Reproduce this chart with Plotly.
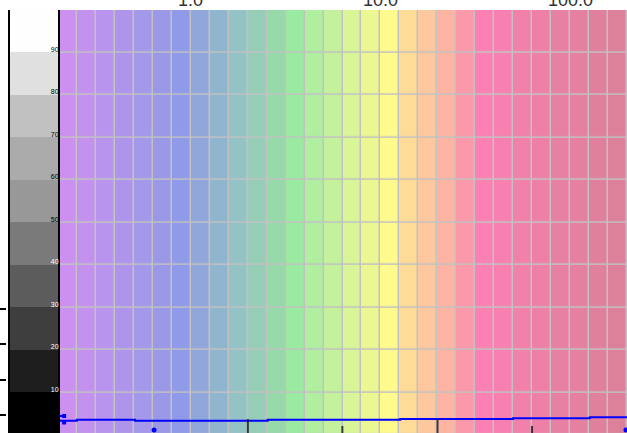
import numpy as np
import plotly.graph_objects as go

# ---- data ----
stripe_colors = [
    "#cc90f0", "#c392ee", "#b994ee", "#ae94ea", "#a498ea", "#9b98e8", "#8f9ae8", "#91a6da", "#90b5ce", "#94c3c6",
    "#95cdb6", "#97daaa", "#9aeaa2", "#b0eea0", "#c4f29c", "#d8f597", "#ebf892", "#fefa8e", "#fedc98", "#fec89e",
    "#fdb4a2", "#fb98aa", "#fd80b4", "#f880b0", "#f180ab", "#ee80a8", "#e880a4", "#e580a0", "#e0809c", "#dc8199",
]
stripe_log_start = -0.7     # log10 of first stripe edge
stripe_log_width = 0.1      # decades per stripe
gray_levels = ["#000000", "#1e1e1e", "#3e3e3e", "#5c5c5c", "#7a7a7a", "#989898", "#ababab", "#c1c1c1", "#e0e0e0", "#fefefe"]
gray_edges = [0, 10, 20, 30, 40, 50, 60, 70, 80, 90, 100]
y_tick_vals = [10, 20, 30, 40, 50, 60, 70, 80, 90]
x_tick_vals = [1, 10, 100]
x_tick_text = ["1.0", "10.0", "100.0"]

step_x = [0.2, 0.251, 0.508, 2.545, 12.7, 50.0, 127.0, 200.0]
step_y = [3.32, 3.55, 3.32, 3.55, 3.72, 3.9, 4.14, 4.14]

dash_x = [0.2, 0.215]
dash_y = [4.42, 4.42]
square_x = [0.215, 0.215]
square_y = [4.42, 2.9]
dot_x = [0.64, 197.0]
dot_y = [1.13, 1.13]
mark_x = [2.0, 6.3, 20.0, 63.0]
mark_len = [20, 10, 20, 10]
left_tick_vals = [1, 2, 3, 4]

# ---- derived ----
n = len(stripe_colors)
x_edges = [10 ** (stripe_log_start + stripe_log_width * i) for i in range(n + 1)]
z = [[c for c in range(n)] for _ in range(len(gray_edges) - 1)]
cscale = [[c / (n - 1), col] for c, col in enumerate(stripe_colors)]
g = len(gray_levels)
gscale = [[k / (g - 1), col] for k, col in enumerate(gray_levels)]

W, H = 627, 433
yr = [0.42, 99.95]

fig = go.Figure()
fig.add_trace(go.Heatmap(
    x=x_edges, y=gray_edges, z=z, colorscale=cscale, zmin=0, zmax=n - 1,
    showscale=False, xgap=1.5, ygap=1.5, hoverinfo="skip", xaxis="x", yaxis="y"))
fig.add_trace(go.Heatmap(
    x=[-0.5, 0.5], y=gray_edges, z=[[k] for k in range(g)], colorscale=gscale, zmin=0, zmax=g - 1,
    showscale=False, hoverinfo="skip", xaxis="x2", yaxis="y"))
fig.add_trace(go.Scatter(x=step_x, y=step_y, mode="lines", line=dict(color="#0000ff", width=2, shape="hv"),
                         showlegend=False, xaxis="x", yaxis="y"))
fig.add_trace(go.Scatter(x=dash_x, y=dash_y, mode="lines", line=dict(color="#0000ff", width=2),
                         showlegend=False, xaxis="x", yaxis="y"))
fig.add_trace(go.Scatter(x=square_x, y=square_y, mode="markers",
                         marker=dict(symbol="square", size=4, color="#0000ff"),
                         showlegend=False, xaxis="x", yaxis="y"))
fig.add_trace(go.Scatter(x=dot_x, y=dot_y, mode="markers",
                         marker=dict(symbol="circle", size=5, color="#0000ff"),
                         showlegend=False, xaxis="x", yaxis="y"))
fig.add_trace(go.Scatter(x=mark_x, y=[yr[0]] * len(mark_x), mode="markers",
                         marker=dict(symbol="line-ns", size=mark_len, line=dict(width=2, color="#000000")),
                         showlegend=False, xaxis="x", yaxis="y"))
fig.add_trace(go.Scatter(x=[None], y=[None], mode="markers", showlegend=False, xaxis="x", yaxis="y3"))

tick_text = []
for v in y_tick_vals:
    col = "#ffffff" if v <= 40 else "#000000"
    tick_text.append(f'<span style="color:{col}">{v}</span>')

# top axis labels (log axis -> annotation x in log10 units)
annotations = [
    dict(x=float(np.log10(v)), y=1, xref="x", yref="paper", text=t, showarrow=False,
         xanchor="center", yanchor="bottom", yshift=-2,
         font=dict(family="Liberation Sans, Arial", size=18, color="#333333"))
    for v, t in zip(x_tick_vals, x_tick_text)
]

fig.update_layout(
    width=W, height=H, template="none",
    margin=dict(l=0, r=0, t=10, b=0, pad=0),
    paper_bgcolor="white", plot_bgcolor="#c2c2c2",
    showlegend=False,
    annotations=annotations,
    xaxis=dict(domain=[58 / W, 1], type="log", range=[-0.7, 2.3], side="top", anchor="y",
               showticklabels=False, showgrid=False, zeroline=False,
               showline=False, ticks="", automargin=False),
    xaxis2=dict(domain=[10 / W, 58 / W], range=[-0.5, 0.5], anchor="y", visible=False),
    yaxis=dict(range=yr, anchor="x2", side="right", tickvals=y_tick_vals, ticktext=tick_text,
               ticklabelposition="inside", ticklabelshift=-3, ticklabelstandoff=-2,
               showgrid=False, zeroline=False, ticks="", automargin=False,
               showline=True, linecolor="#000000", linewidth=1.5, mirror=True,
               tickfont=dict(family="Liberation Sans, Arial", size=7, color="#000000")),
    yaxis3=dict(overlaying="y", anchor="free", position=6 / W, side="left",
                range=[0.4905, 12.463], tickvals=left_tick_vals, ticks="outside", ticklen=6,
                tickwidth=2, tickcolor="#000000", showticklabels=False, showgrid=False,
                zeroline=False, showline=False, automargin=False),
)

fig.write_html("out.html")
